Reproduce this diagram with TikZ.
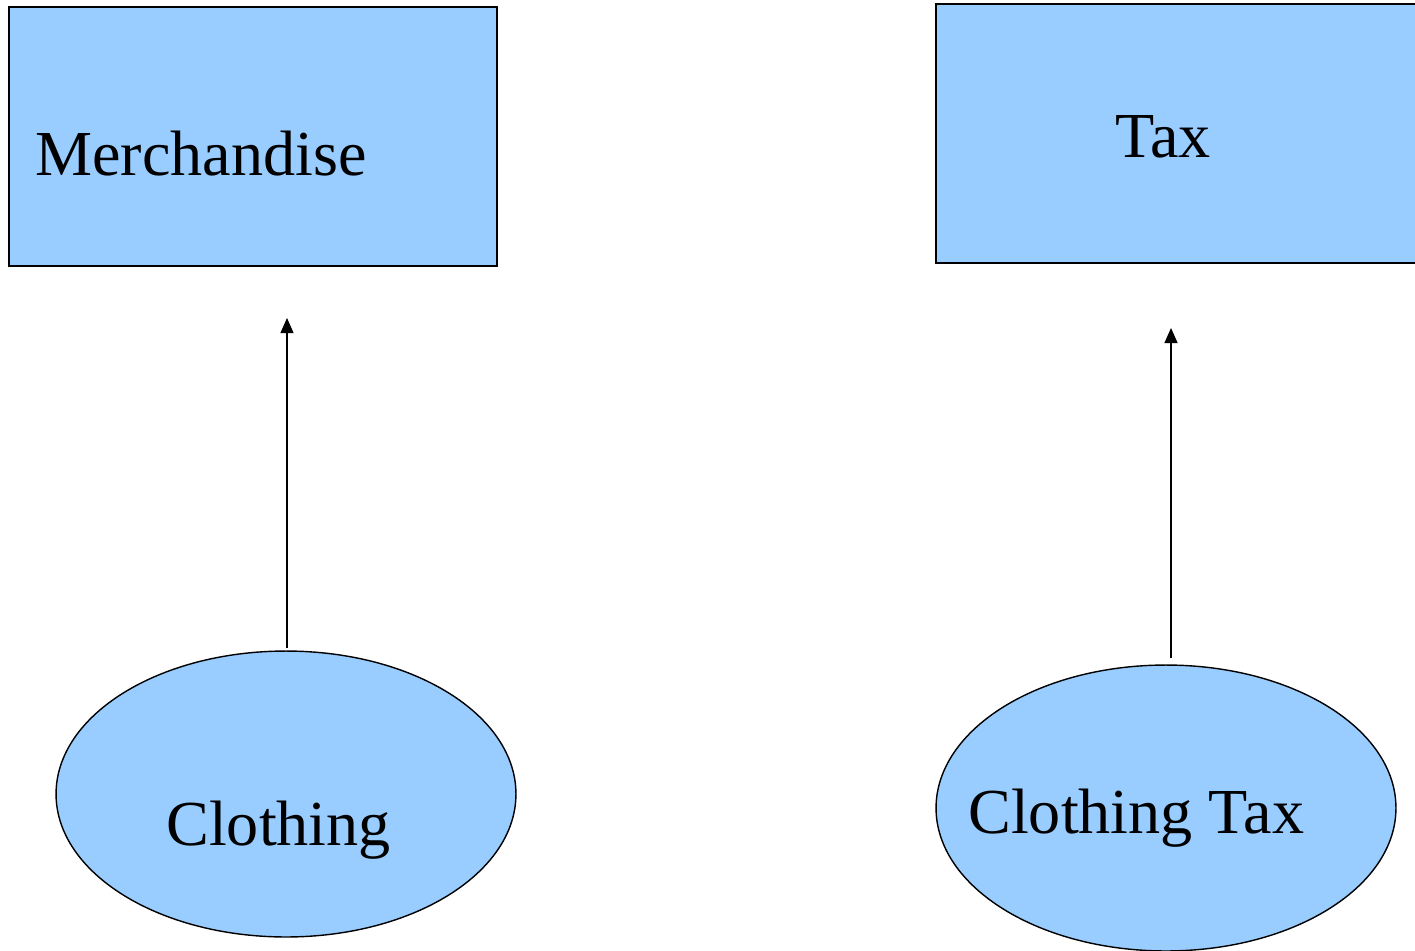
\documentclass[tikz,border=0pt]{standalone}
\usepackage{fontspec}
\setmainfont{Liberation Serif}
\usetikzlibrary{shapes.geometric,arrows.meta}

\begin{document}
\begin{tikzpicture}[x=0.02cm,y=-0.02cm,
  classbox/.style={draw,line width=0.8pt,fill=skyfill,minimum width=9.76cm,minimum height=5.18cm,inner sep=0},
  subclass/.style={ellipse,draw,line width=0.8pt,fill=skyfill,minimum width=9.2cm,minimum height=5.72cm,inner sep=0},
  lbl/.style={anchor=base west,inner sep=0,font=\fontsize{36.5}{40}\selectfont},
  isa/.style={-{Triangle[length=0.3cm,width=0.26cm]},line width=0.7pt}]
\definecolor{skyfill}{HTML}{99CCFF}
\useasboundingbox (0,0) rectangle (1415,950);
\clip (0,0) rectangle (1415,950);
  \node [classbox] (merch) at (253,136.5) {};
  \node [classbox] (tax) at (1180,133.5) {};
  \node [subclass] (cloth) at (286,794) {};
  \node [subclass] (clothtax) at (1166,808) {};
  \node [lbl] (merchtxt) at (35,175) {Merchandise};
  \node [lbl] (taxtxt) at (1115,157) {Tax};
  \node [lbl] (clothtxt) at (166,845) {Clothing};
  \node [lbl] (clothtaxtxt) at (968,833) {Clothing Tax};
\coordinate (merchtip) at (287,318);
\coordinate (taxtip) at (1171,328);
  \draw [isa] (cloth.north -| merchtip) ++(0,-2) -- (merchtip);
  \draw [isa] (clothtax.north -| taxtip) ++(0,-6) -- (taxtip);
\end{tikzpicture}
\end{document}
